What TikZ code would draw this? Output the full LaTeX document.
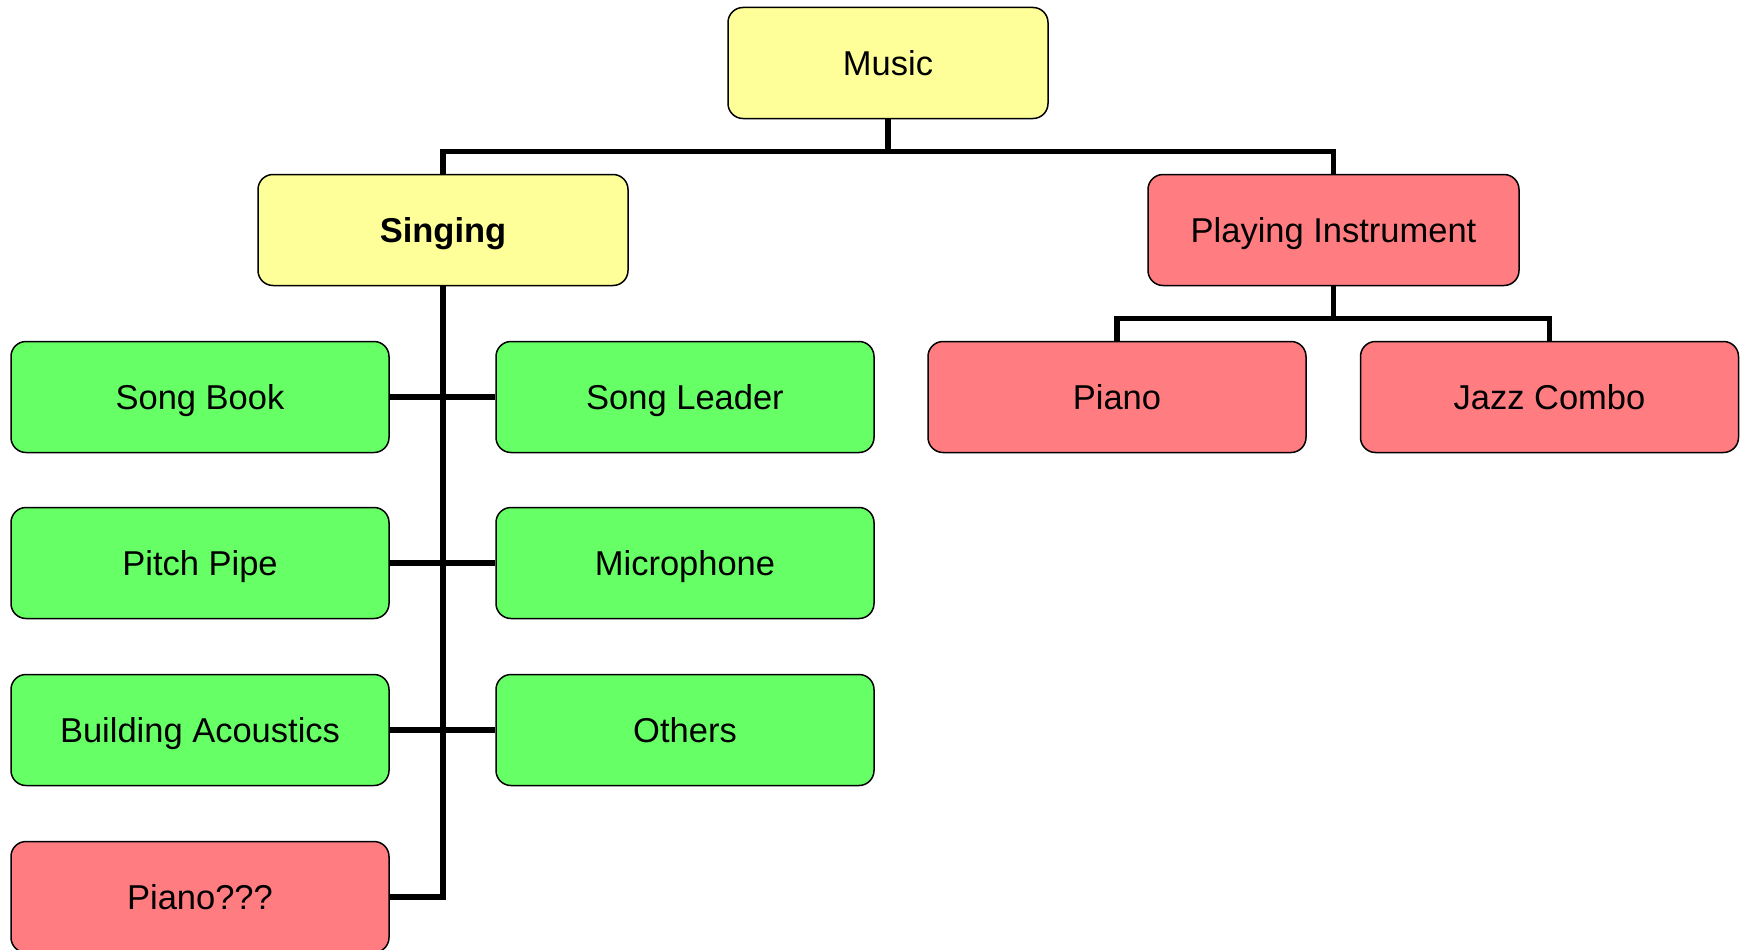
\documentclass[tikz,border=0pt]{standalone}
\usepackage{fontspec}
\setmainfont{Liberation Sans}
\definecolor{paleyellow}{HTML}{FFFF99}
\definecolor{litegreen}{HTML}{66FF66}
\definecolor{salmon}{HTML}{FF7C80}
\tikzset{
  box/.style={draw, line width=1.5pt, rounded corners=15pt, minimum width=378pt,
    minimum height=111pt, inner sep=0pt, text height=24.7pt, text depth=0pt,
    font=\fontsize{34.5}{40}\selectfont},
  bus/.style={line width=5.5pt}
}
\begin{document}
\begin{tikzpicture}[x=1pt,y=-1pt]
\useasboundingbox (0,0) rectangle (1741,950);
% top level
\node[box, fill=paleyellow, minimum width=320pt] (music) at (888,63) {Music};
\node[box, fill=paleyellow, minimum width=370pt, font=\fontsize{34.5}{40}\selectfont\bfseries] (singing) at (443,230) {Singing};
\node[box, fill=salmon, minimum width=371pt] (playing) at (1333.5,230) {Playing Instrument};
% singing
\node[box, fill=litegreen] (songbook) at (200,397) {Song Book};
\node[box, fill=litegreen] (songleader) at (685,397) {Song Leader};
\node[box, fill=litegreen] (pitchpipe) at (200,563) {Pitch Pipe};
\node[box, fill=litegreen] (microphone) at (685,563) {Microphone};
\node[box, fill=litegreen] (acoustics) at (200,730) {Building Acoustics};
\node[box, fill=litegreen] (others) at (685,730) {Others};
\node[box, fill=salmon] (pianoq) at (200,897) {Piano???};
% instrument
\node[box, fill=salmon] (piano) at (1117,397) {Piano};
\node[box, fill=salmon] (jazz) at (1549.5,397) {Jazz Combo};
% connectors
\draw[bus] (music.south) -- ++(0,32) -| (singing.north);
\draw[bus] (music.south) -- ++(0,32) -| (playing.north);
\draw[bus] (singing.south) |- (pianoq.east);
\draw[bus] (songbook.east) -- (songleader.west);
\draw[bus] (pitchpipe.east) -- (microphone.west);
\draw[bus] (acoustics.east) -- (others.west);
\draw[bus] (playing.south) -- ++(0,32) -| (piano.north);
\draw[bus] (playing.south) -- ++(0,32) -| (jazz.north);
\end{tikzpicture}
\end{document}
